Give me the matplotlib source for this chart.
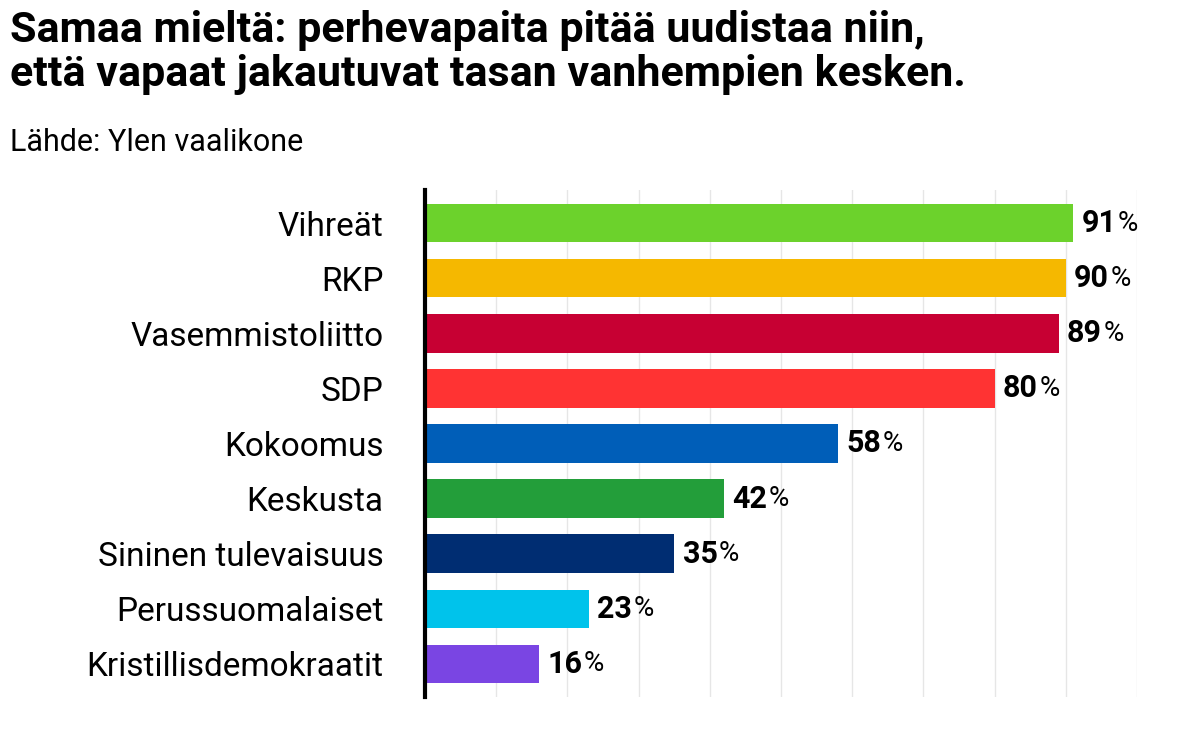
import matplotlib.pyplot as plt

parties = ["Vihreät", "RKP", "Vasemmistoliitto", "SDP", "Kokoomus", "Keskusta",
           "Sininen tulevaisuus", "Perussuomalaiset", "Kristillisdemokraatit"]
values = [91, 90, 89, 80, 58, 42, 35, 23, 16]
colors = ["#6cd22c", "#f5b800", "#c70033", "#ff3333", "#005eb8", "#239e3a",
          "#002d72", "#00c3eb", "#7a45e3"]

plt.rcParams["font.family"] = "Roboto"

fig = plt.figure(figsize=(11.98, 7.29), dpi=100)
ax = fig.add_axes([425 / 1198, 1 - 697 / 729, (1137 - 425) / 1198, (697 - 190) / 729])

y = list(range(len(parties)))[::-1]
ax.barh(y, values, height=0.7, color=colors, zorder=2)

ax.set_xlim(0, 100)
ax.set_ylim(-0.6, len(parties) - 0.4)
ax.set_yticks(y)
ax.set_yticklabels(parties, fontsize=24)
ax.tick_params(axis="y", length=0, pad=30)
ax.set_xticks(range(0, 101, 10))
ax.tick_params(axis="x", length=0, labelbottom=False)
ax.grid(axis="x", color="#e6e6e6", lw=1, zorder=0)
for s in ["top", "right", "bottom"]:
    ax.spines[s].set_visible(False)
ax.spines["left"].set_linewidth(3)
ax.spines["left"].set_zorder(3)

# value labels: bold number + regular percent sign
fig.canvas.draw()
renderer = fig.canvas.get_renderer()
for yi, v in zip(y, values):
    t = ax.annotate(f"{v}", (v, yi), xytext=(6, 0), textcoords="offset points",
                    ha="left", va="center", fontsize=22, fontweight="bold")
    w = t.get_window_extent(renderer).width * 72 / fig.dpi
    ax.annotate("%", (v, yi), xytext=(6 + w + 1, 0), textcoords="offset points",
                ha="left", va="center", fontsize=20)

fig.text(10 / 1198, 1 - 10 / 729, "Samaa mieltä: perhevapaita pitää uudistaa niin,\n"
         "että vapaat jakautuvat tasan vanhempien kesken.",
         ha="left", va="top", fontsize=31, fontweight="bold", linespacing=1.1)
fig.text(10 / 1198, 1 - 128 / 729, "Lähde: Ylen vaalikone", ha="left", va="top", fontsize=22)

fig.savefig("out.png", dpi=100)
